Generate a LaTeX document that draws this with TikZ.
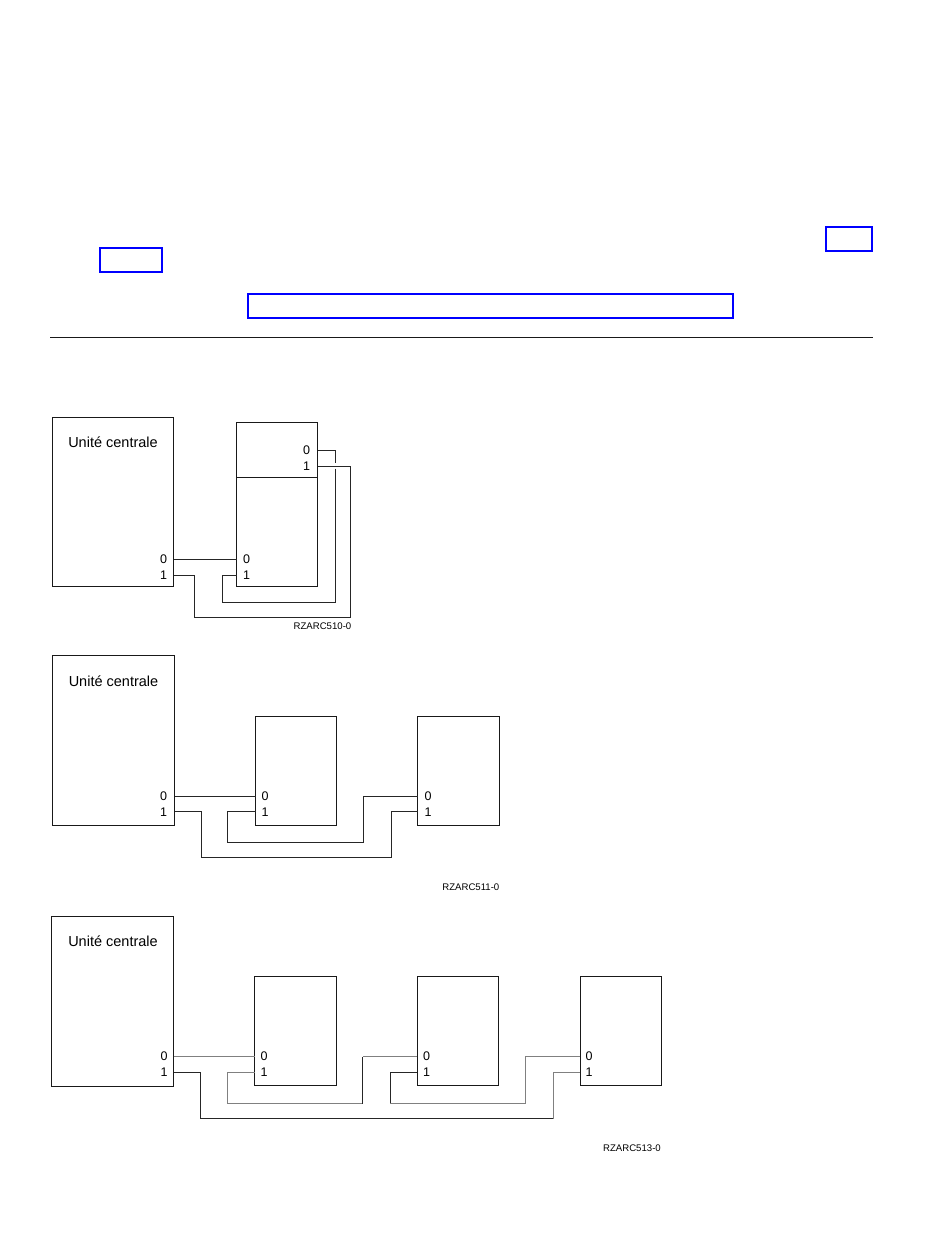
\documentclass[tikz,border=0pt]{standalone}
\usepackage{fontspec}
\setmainfont{Liberation Sans}
\begin{document}
\begin{tikzpicture}[x=1pt,y=-1pt,
  boxn/.style={draw=black!90,line width=0.9pt,fill=none},
  bluebox/.style={draw=blue,line width=2pt},
  wire/.style={draw=black!85,line width=0.8pt},
  greywire/.style={draw=black!50,line width=0.9pt},
  cputitle/.style={font=\fontsize{14.5}{16}\selectfont,inner sep=0pt},
  portl/.style={font=\fontsize{12.5}{14}\selectfont,inner sep=0pt},
  figref/.style={font=\fontsize{9.6}{11}\selectfont,inner sep=0pt}]
\useasboundingbox (0,0) rectangle (950,1259);
% blue frames
\draw[bluebox] (826,227) rectangle (872,251);
\draw[bluebox] (100,248) rectangle (162,272);
\draw[bluebox] (248,294) rectangle (733,318);
\draw[line width=0.8pt,black!90] (50,337.5) -- (873,337.5);
% ---- diagram 1
\draw[boxn] (52.5,417.5) rectangle (173.5,586);
\draw[boxn] (236.5,422) rectangle (317.5,586);
\draw[boxn] (236.5,477) -- (317.5,477);
\node[cputitle] (t1) at (113,442.5) {Unité centrale};
\node[portl] (p1a) at (163.5,559.5) {0};
\node[portl] (p1b) at (163.5,575.5) {1};
\node[portl] (p1c) at (246.5,559.5) {0};
\node[portl] (p1d) at (246.5,575.5) {1};
\node[portl] (p1e) at (306.5,450.5) {0};
\node[portl] (p1f) at (306.5,466.5) {1};
\node[figref,anchor=east] (r1) at (351.5,626) {RZARC510-0};
\coordinate (a0) at (173.5,559.5);
\coordinate (a1) at (173.5,575.5);
\coordinate (b0) at (236.5,559.5);
\coordinate (b1) at (236.5,575.5);
\coordinate (c0) at (317.5,450.5);
\coordinate (c1) at (317.5,466.5);
\draw[wire] (a0) -- (b0);
\draw[wire] (a1) -- (194.5,575.5) -- (194.5,617.5) -- (350.5,617.5) -- (350.5,466.5) -- (c1);
\draw[wire] (c0) -- (335.5,450.5) -- (335.5,463);
\draw[wire] (335.5,468.5) -- (335.5,602) -- (222.5,602) -- (222.5,575.5) -- (b1);
% ---- diagram 2
\draw[boxn] (52.5,655.5) rectangle (174.5,825);
\draw[boxn] (255.5,716.5) rectangle (336.5,825);
\draw[boxn] (417.5,716.5) rectangle (499.5,825);
\node[cputitle] (t2) at (113.5,681) {Unité centrale};
\node[portl] (p2a) at (163.5,796) {0};
\node[portl] (p2b) at (163.5,812) {1};
\node[portl] (p2c) at (265,796) {0};
\node[portl] (p2d) at (265,812) {1};
\node[portl] (p2e) at (428,796) {0};
\node[portl] (p2f) at (428,812) {1};
\node[figref,anchor=east] (r2) at (499.5,887) {RZARC511-0};
\coordinate (d0) at (174.5,796);
\coordinate (d1) at (174.5,811.5);
\coordinate (e0) at (255.5,796);
\coordinate (e1) at (255.5,811.5);
\coordinate (f0) at (417.5,796);
\coordinate (f1) at (417.5,811.5);
\draw[wire] (d0) -- (e0);
\draw[wire] (d1) -- (201.5,811.5) -- (201.5,857.5) -- (391.5,857.5) -- (391.5,811.5) -- (f1);
\draw[wire] (e1) -- (227.5,811.5) -- (227.5,842.5) -- (363.5,842.5) -- (363.5,796) -- (f0);
% ---- diagram 3
\draw[boxn] (51.5,916.5) rectangle (173.5,1086.5);
\draw[boxn] (254.5,976.5) rectangle (336.5,1085.5);
\draw[boxn] (417,976.5) rectangle (498.5,1085.5);
\draw[boxn] (580,976.5) rectangle (661.5,1085.5);
\node[cputitle] (t3) at (113,941.5) {Unité centrale};
\node[portl] (p3a) at (164,1056.5) {0};
\node[portl] (p3b) at (164,1072.5) {1};
\node[portl] (p3c) at (264,1056.5) {0};
\node[portl] (p3d) at (264,1072.5) {1};
\node[portl] (p3e) at (426.5,1056.5) {0};
\node[portl] (p3f) at (426.5,1072.5) {1};
\node[portl] (p3g) at (589,1056.5) {0};
\node[portl] (p3h) at (589,1072.5) {1};
\node[figref,anchor=east] (r3) at (661,1148.5) {RZARC513-0};
\coordinate (g0) at (173.5,1056.5);
\coordinate (g1) at (173.5,1072.5);
\coordinate (h0) at (254.5,1056.5);
\coordinate (h1) at (254.5,1072.5);
\coordinate (i0) at (417,1056.5);
\coordinate (i1) at (417,1072.5);
\coordinate (j0) at (580,1056.5);
\coordinate (j1) at (580,1072.5);
\draw[greywire] (g0) -- (h0);
\draw[wire] (g1) -- (200.5,1072.5) -- (200.5,1118.5) -- (553.5,1118.5);
\draw[greywire] (553.5,1118.5) -- (553.5,1072.5) -- (j1);
\draw[greywire] (h1) -- (227.5,1072.5) -- (227.5,1103.5) -- (362.5,1103.5);
\draw[wire] (362.5,1103.5) -- (362.5,1056.5);
\draw[greywire] (362.5,1056.5) -- (i0);
\draw[wire] (i1) -- (390,1072.5) -- (390,1103.5);
\draw[greywire] (390,1103.5) -- (525,1103.5) -- (525,1056.5) -- (j0);
\end{tikzpicture}
\end{document}
